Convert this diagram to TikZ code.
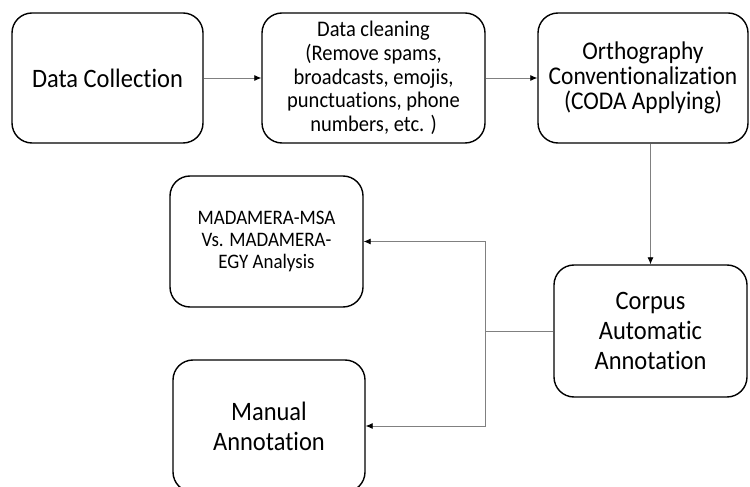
\documentclass[tikz,border=0pt]{standalone}
\usepackage{fontspec}
\setmainfont{Carlito}
\newfontfamily\boxfont[FakeStretch=0.92, Ligatures=NoCommon]{Carlito}
\usetikzlibrary{arrows.meta}

\begin{document}
\begin{tikzpicture}[x=1bp, y=-1bp,
    every node/.append style={draw, line width=1.4bp, rounded corners=20bp, align=center, inner sep=0pt},
    link/.style={line width=0.8bp, black!50, -{Latex[black, length=7bp, width=6bp]}}]
    \useasboundingbox (0,0) rectangle (750,487);
    \node[minimum width=191bp, minimum height=130bp, font=\boxfont\fontsize{26.6bp}{30bp}\selectfont] (collect) at (107.5,78) {Data Collection};
    \node[minimum width=223bp, minimum height=130bp, font=\boxfont\fontsize{22.3bp}{23.6bp}\selectfont] (clean) at (373.5,78)
      {Data cleaning\\(Remove spams,\\broadcasts, emojis,\\punctuations, phone\\numbers, etc. )};
    \node[minimum width=210bp, minimum height=130bp, font=\boxfont\fontsize{25.5bp}{25bp}\selectfont] (ortho) at (643,78)
      {Orthography\\Conventionalization\\(CODA Applying)};
    \node[minimum width=193bp, minimum height=132bp, font=\boxfont\fontsize{26.6bp}{30bp}\selectfont] (corpus) at (650.5,331)
      {Corpus\\Automatic\\Annotation};
    \node[minimum width=193bp, minimum height=131bp, font=\boxfont\fontsize{20.6bp}{21.7bp}\selectfont] (compare) at (266.5,241.5)
      {MADAMERA-MSA\\Vs. MADAMERA-\\EGY Analysis};
    \node[minimum width=192bp, minimum height=132bp, font=\boxfont\fontsize{26.6bp}{30bp}\selectfont] (manual) at (269,426)
      {Manual\\Annotation};
    \coordinate (split) at (485,331);
    \draw[link] (collect) -- (clean);
    \draw[link] (clean) -- (ortho);
    \draw[link] (ortho.south -| corpus.north) -- (corpus.north);
    \draw[link] (corpus.west) -- (split) |- (compare.east);
    \draw[link] (split) |- (manual.east);
  \end{tikzpicture}
\end{document}
